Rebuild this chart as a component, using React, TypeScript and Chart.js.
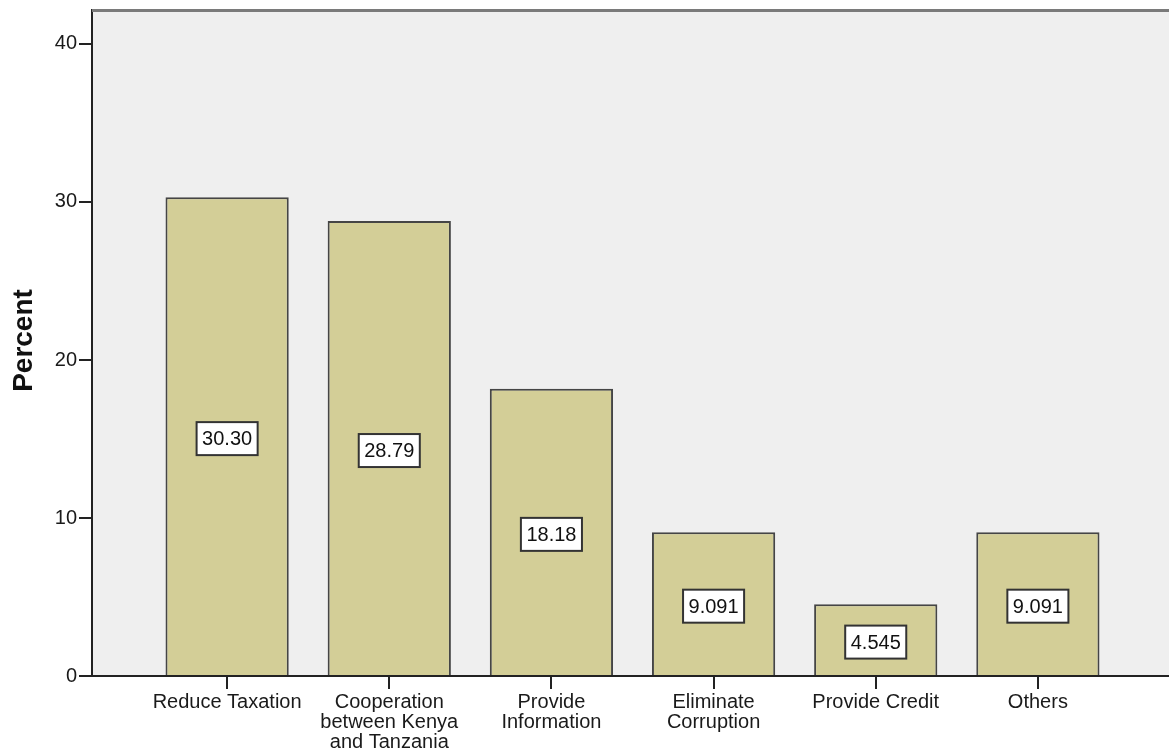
import React, { useEffect, useRef } from "react";
import { Chart, registerables } from "chart.js";

Chart.register(...registerables);

const categories = [
  "Reduce Taxation",
  "Cooperation between Kenya and Tanzania",
  "Provide Information",
  "Eliminate Corruption",
  "Provide Credit",
  "Others",
];
const categoryLines = [
  ["Reduce Taxation"],
  ["Cooperation", "between Kenya", "and Tanzania"],
  ["Provide", "Information"],
  ["Eliminate", "Corruption"],
  ["Provide Credit"],
  ["Others"],
];
const percents = [30.3, 28.79, 18.18, 9.091, 4.545, 9.091];
const valueLabels = ["30.30", "28.79", "18.18", "9.091", "4.545", "9.091"];
const yTicks = [0, 10, 20, 30, 40];
const yTitle = "Percent";

const FONT = '"Liberation Sans", Arial, sans-serif';

export default function App() {
  const ref = useRef<HTMLCanvasElement | null>(null);

  useEffect(() => {
    if (!ref.current) return;

    const bgPlugin = {
      id: "bg",
      beforeDraw(chart: any) {
        const { ctx, chartArea } = chart;
        ctx.save();
        ctx.fillStyle = "#efefef";
        ctx.fillRect(chartArea.left, chartArea.top, chartArea.right - chartArea.left, chartArea.bottom - chartArea.top);
        ctx.restore();
      },
      afterDraw(chart: any) {
        const { ctx, chartArea } = chart;
        ctx.save();
        ctx.strokeStyle = "#7a7a7a";
        ctx.lineWidth = 3;
        ctx.beginPath();
        ctx.moveTo(chartArea.left, chartArea.top + 0.5);
        ctx.lineTo(chartArea.right, chartArea.top + 0.5);
        ctx.stroke();
        ctx.fillStyle = "#111";
        ctx.font = "bold 28px " + FONT;
        ctx.textAlign = "center";
        ctx.textBaseline = "alphabetic";
        ctx.translate(32, 340.5);
        ctx.rotate(-Math.PI / 2);
        ctx.fillText(yTitle, 0, 0);
        ctx.restore();
      },
    };

    const labelPlugin = {
      id: "valueLabels",
      afterDatasetsDraw(chart: any) {
        const { ctx } = chart;
        const meta = chart.getDatasetMeta(0);
        const yScale = chart.scales.y;
        ctx.save();
        ctx.font = "20px " + FONT;
        ctx.textAlign = "center";
        ctx.textBaseline = "middle";
        meta.data.forEach((bar: any, i: number) => {
          const text = valueLabels[i];
          const cx = bar.x;
          const cy = yScale.getPixelForValue(percents[i] / 2) + 2;
          const w = ctx.measureText(text).width + 11;
          const h = 33;
          ctx.fillStyle = "#ffffff";
          ctx.fillRect(cx - w / 2, cy - h / 2, w, h);
          ctx.strokeStyle = "#333";
          ctx.lineWidth = 2;
          ctx.strokeRect(cx - w / 2, cy - h / 2, w, h);
          ctx.fillStyle = "#111";
          ctx.fillText(text, cx, cy + 1);
        });
        ctx.restore();
      },
    };

    const chart = new Chart(ref.current, {
      type: "bar",
      data: {
        datasets: [
          {
            label: yTitle,
            data: percents.map((v, i) => ({ x: i, y: v })),
            backgroundColor: "#d3ce97",
            borderColor: "#454545",
            borderWidth: 2,
            barPercentage: 0.76,
            categoryPercentage: 1,
          },
        ],
      },
      options: {
        animation: false,
        responsive: true,
        maintainAspectRatio: false,
        layout: { padding: { top: 10, right: 0, left: 0, bottom: 0 } },
        plugins: {
          legend: { display: false },
          tooltip: { enabled: false },
          title: { display: false },
        },
        scales: {
          x: {
            type: "linear",
            min: -0.8333,
            max: 5.8086,
            offset: false,
            afterFit(scale: any) {
              scale.height = 75;
              scale.paddingLeft = 0;
              scale.paddingRight = 0;
            },
            afterBuildTicks(scale: any) {
              scale.ticks = categories.map((_, i) => ({ value: i }));
            },
            grid: {
              display: true,
              offset: false,
              drawOnChartArea: false,
              drawTicks: true,
              tickLength: 13,
              color: "#222",
              lineWidth: 2,
            },
            border: { display: true, color: "#222", width: 2 },
            ticks: {
              autoSkip: false,
              maxRotation: 0,
              minRotation: 0,
              padding: 3,
              color: "#1a1a1a",
              font: { family: FONT, size: 20, lineHeight: 1.0 },
              callback: (value: any) => categoryLines[Math.round(Number(value))] || "",
            },
          },
          y: {
            type: "linear",
            min: 0,
            max: 42.15,
            afterFit(scale: any) {
              scale.width = 92;
              scale.paddingTop = 0;
              scale.paddingBottom = 0;
            },
            afterBuildTicks(scale: any) {
              scale.ticks = yTicks.map((v) => ({ value: v }));
            },
            grid: {
              display: true,
              drawOnChartArea: false,
              drawTicks: true,
              tickLength: 13,
              color: "#222",
              lineWidth: 2,
            },
            border: { display: true, color: "#222", width: 2 },
            ticks: {
              padding: 2,
              color: "#1a1a1a",
              font: { family: FONT, size: 20 },
            },
          },
        },
      },
      plugins: [bgPlugin, labelPlugin],
    } as any);

    return () => chart.destroy();
  }, []);

  return (
    <div style={{ position: "fixed", left: 0, top: 0, width: 1169, height: 751, background: "#fff" }}>
      <canvas ref={ref} />
    </div>
  );
}
